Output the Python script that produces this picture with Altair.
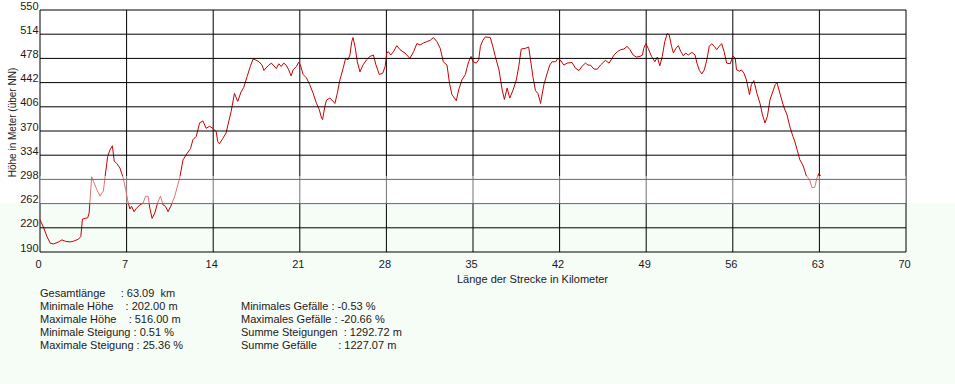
import altair as alt
import pandas as pd

km = [0.0, 0.3, 0.56, 0.83, 1.1, 1.5, 1.77, 2.04, 2.44, 2.7, 3.1, 3.3, 3.43, 3.65, 3.86, 3.97,
      4.18, 4.32, 4.59, 4.85, 4.99, 5.12, 5.26, 5.47, 5.66, 5.85, 6.0, 6.19, 6.46, 6.73, 6.92,
      7.13, 7.27, 7.4, 7.6, 7.8, 8.07, 8.34, 8.53, 8.74, 8.88, 9.06, 9.28, 9.49, 9.73, 9.95,
      10.14, 10.35, 10.57, 10.89, 11.29, 11.56, 11.9, 12.17, 12.36, 12.63, 12.9, 13.17, 13.43,
      13.7, 13.97, 14.24, 14.37, 14.5, 14.78, 15.04, 15.23, 15.45, 15.72, 15.98, 16.25, 16.47,
      16.74, 17.0, 17.22, 17.4, 17.7, 17.95, 18.1, 18.27, 18.5, 18.7, 18.9, 19.1, 19.3, 19.5,
      19.7, 19.9, 20.1, 20.3, 20.46, 20.73, 20.9, 21.05, 21.27, 21.54, 21.8, 22.08, 22.35,
      22.57, 22.76, 22.84, 23.03, 23.16, 23.43, 23.6, 23.84, 24.03, 24.24, 24.5, 24.7, 24.9,
      25.05, 25.2, 25.3, 25.46, 25.65, 25.86, 26.1, 26.4, 26.68, 26.95, 27.16, 27.43, 27.7,
      27.9, 28.03, 28.16, 28.35, 28.57, 28.84, 29.1, 29.5, 29.9, 30.2, 30.46, 30.73, 31.0,
      31.27, 31.54, 31.8, 32.08, 32.35, 32.6, 32.9, 33.1, 33.3, 33.5, 33.65, 33.84, 34.1,
      34.38, 34.5, 34.65, 34.84, 35.0, 35.27, 35.46, 35.6, 35.8, 36.0, 36.4, 36.6, 36.8, 37.1,
      37.36, 37.54, 37.76, 37.97, 38.24, 38.5, 38.7, 38.9, 39.24, 39.5, 39.65, 39.84, 40.05,
      40.24, 40.4, 40.46, 40.73, 41.0, 41.2, 41.4, 41.68, 41.86, 42.03, 42.35, 42.6, 43.0,
      43.3, 43.57, 43.84, 44.1, 44.3, 44.5, 44.78, 45.05, 45.3, 45.7, 46.0, 46.4, 46.67,
      46.95, 47.2, 47.46, 47.68, 47.95, 48.2, 48.5, 48.7, 48.8, 48.97, 49.16, 49.43, 49.7,
      49.9, 50.1, 50.3, 50.5, 50.7, 50.86, 51.05, 51.2, 51.4, 51.6, 51.8, 52.0, 52.2, 52.4,
      52.7, 52.95, 53.1, 53.3, 53.5, 53.7, 53.9, 54.1, 54.3, 54.5, 54.7, 54.9, 55.1, 55.3,
      55.5, 55.8, 56.0, 56.2, 56.3, 56.54, 56.7, 56.9, 57.1, 57.35, 57.5, 57.7, 57.95, 58.2,
      58.4, 58.6, 58.8, 59.0, 59.24, 59.43, 59.57, 59.84, 60.1, 60.38, 60.65, 60.86, 61.0,
      61.28, 61.4, 61.69, 61.95, 62.2, 62.4, 62.62, 62.8, 62.97, 63.09]
elev = [238, 226, 213, 203, 202, 205, 208, 206, 205, 206, 209, 213, 239, 240, 241, 248,
        302, 295, 283, 273, 278, 280, 302, 332, 342, 348, 325, 322, 315, 300, 283,
        263, 254, 258, 250, 255, 260, 263, 273, 273, 255, 240, 248, 262, 273, 260,
        258, 250, 258, 273, 300, 327, 337, 344, 357, 362, 382, 385, 374,
        377, 374, 369, 354, 351, 359, 367, 382, 399, 426, 414, 428, 435,
        451, 466, 477, 476, 473, 468, 460, 464, 468, 471, 467, 463, 470, 466,
        471, 468, 461, 452, 461, 466, 472, 468, 454, 449, 439, 426, 411,
        402, 389, 387, 407, 416, 419, 416, 411, 426, 446, 463, 478, 476,
        483, 503, 509, 496, 473, 458, 468, 476, 481, 483, 468, 454, 456,
        466, 486, 488, 483, 488, 497, 491, 486, 478, 488, 500, 498, 501,
        503, 505, 509, 503, 493, 473, 468, 441, 424, 419, 415, 431, 446,
        454, 463, 473, 481, 473, 471, 476, 496, 505, 510, 509, 496, 481, 461,
        431, 417, 434, 419, 431, 446, 466, 492, 493, 495, 476, 451, 430,
        426, 416, 411, 439, 456, 468, 473, 473, 478, 476, 468, 471, 472,
        463, 460, 467, 471, 468, 468, 462, 462, 468, 475, 471, 483, 488,
        491, 492, 496, 491, 483, 480, 481, 483, 493, 500, 493, 481, 473,
        480, 467, 481, 503, 515, 513, 496, 486, 493, 497, 488, 482, 486, 483,
        487, 483, 471, 460, 455, 461, 476, 496, 500, 496, 491, 496, 500, 488,
        471, 470, 482, 478, 461, 459, 461, 456, 446, 424, 439, 445, 426, 411,
        394, 382, 392, 416, 429, 439, 442, 424, 407, 394, 374, 362, 355,
        337, 328, 318, 303, 298, 286, 286, 300, 307, 303]

x_ticks = [0, 7, 14, 21, 28, 35, 42, 49, 56, 63, 70]
y_ticks = [190, 226, 262, 298, 334, 370, 406, 442, 478, 514, 550]

NB = "\u00a0"
stats_left = [
    "Gesamtlänge" + NB * 5 + ": 63.09" + NB * 2 + "km",
    "Minimale Höhe" + NB * 4 + ": 202.00 m",
    "Maximale Höhe" + NB * 4 + ": 516.00 m",
    "Minimale Steigung : 0.51 %",
    "Maximale Steigung : 25.36 %",
]
stats_right = [
    "Minimales Gefälle : -0.53 %",
    "Maximales Gefälle : -20.66 %",
    "Summe Steigungen" + NB * 2 + ": 1292.72 m",
    "Summe Gefälle" + NB * 7 + ": 1227.07 m",
]

FONT = "Liberation Sans"
W, H = 866, 242

profile = pd.DataFrame({"km": km, "elev": elev})
xt = pd.DataFrame({"v": x_ticks})
yt = pd.DataFrame({"v": y_ticks})
one = pd.DataFrame({"a": [0]})

xscale = alt.Scale(domain=[0, 70], nice=False, zero=False)
yscale = alt.Scale(domain=[190, 550], nice=False, zero=False)

common = dict(grid=False, domain=False, ticks=False, zindex=2,
              labelOverlap=False, labelFlush=False, labelBound=False,
              labelFont=FONT, labelFontSize=11, labelColor="#1a1a1a",
              titleFont=FONT, titleFontWeight="normal", titleColor="#1a1a1a")

x_axis = alt.Axis(values=x_ticks, labelPadding=6, labelOffset=-2,
                  title="Länge der Strecke in Kilometer",
                  titleX=492, titleY=30, titleAlign="center",
                  titleBaseline="alphabetic", titleFontSize=11, **common)
y_axis = alt.Axis(values=y_ticks,
                  labelExpr="datum.value == 226 ? '220' : datum.label",
                  labelPadding=2, labelOffset=-4, labelBaseline="middle",
                  title="Höhe in Meter (über NN)", titleFontSize=10,
                  titleAngle=270, titleX=-28, titleY=112, titleAlign="center",
                  titleBaseline="middle", **common)

bg = alt.Chart(one).mark_rect(color="#f6fcf6").encode(
    x=alt.value(-40), x2=alt.value(915),
    y=alt.Y(datum=262, scale=yscale, axis=y_axis), y2=alt.value(374),
)

vrules = alt.Chart(xt).mark_rule(color="black", strokeWidth=1).encode(
    x=alt.X("v:Q", scale=xscale, axis=x_axis)
)

line = alt.Chart(profile).mark_line(color="#cc0000", strokeWidth=1).encode(
    x=alt.X("km:Q", scale=xscale, axis=x_axis),
    y=alt.Y("elev:Q", scale=yscale, axis=y_axis),
)

overlay = alt.Chart(one).mark_rect(color="white", opacity=0.45).encode(
    x=alt.X(datum=0, scale=xscale, axis=x_axis), x2=alt.datum(70),
    y=alt.Y(datum=303, scale=yscale, axis=y_axis), y2=alt.datum(262),
)

hrules = alt.Chart(yt).mark_rule(strokeWidth=1).encode(
    y=alt.Y("v:Q", scale=yscale, axis=y_axis),
    color=alt.condition("datum.v == 298 || datum.v == 262",
                        alt.value("#66666e"), alt.value("black")),
)

txt_left = alt.Chart(one).mark_text(
    text=stats_left, align="left", baseline="alphabetic", font=FONT,
    fontSize=11, lineHeight=12.9, color="#1a1a1a"
).encode(x=alt.value(0), y=alt.value(287))

txt_right = alt.Chart(one).mark_text(
    text=stats_right, align="left", baseline="alphabetic", font=FONT,
    fontSize=11, lineHeight=12.9, color="#1a1a1a"
).encode(x=alt.value(201), y=alt.value(300))

chart = alt.layer(bg, vrules, line, overlay, hrules, txt_left, txt_right).properties(
    width=W, height=H,
    autosize=alt.AutoSizeParams(type="none"),
    padding={"left": 40, "top": 10, "right": 49, "bottom": 132},
    background="white",
).configure_view(stroke=None)

chart.save("out.html", embed_options={"renderer": "svg", "actions": False})
